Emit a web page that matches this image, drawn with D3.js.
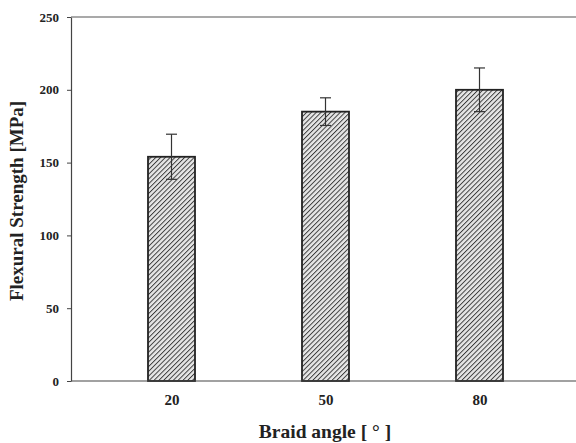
<!DOCTYPE html>
<html>
<head>
<meta charset="utf-8">
<script src="https://cdn.jsdelivr.net/npm/d3@7"></script>
<style>
  body { margin: 0; background: #fff; }
  text { font-family: "Liberation Serif", "Times New Roman", serif; font-weight: bold; fill: #222; }
</style>
</head>
<body>
<div id="chart"></div>
<script>
// data
const braidAngles = [20, 50, 80];
const strengthMean = [154, 185, 200];
const strengthErr = [15.5, 9.5, 15];
const yTicks = [0, 50, 100, 150, 200, 250];

const width = 576, height = 443;
const margins = { top: 17, right: 0, bottom: 62, left: 71 };
const barWidth = 47;

const svg = d3.select('#chart')
    .append('svg')
    .attr('width', width)
    .attr('height', height);

// hatch pattern
const defs = svg.append('defs');
const pat = defs.append('pattern')
    .attr('id', 'hatch')
    .attr('patternUnits', 'userSpaceOnUse')
    .attr('width', 3.4)
    .attr('height', 3.4)
    .attr('patternTransform', 'rotate(45)');
pat.append('rect').attr('width', 3.4).attr('height', 3.4).attr('fill', '#e6e6e6');
pat.append('line')
    .attr('x1', 0).attr('y1', 0).attr('x2', 0).attr('y2', 3.4)
    .attr('stroke', '#3a3a3a').attr('stroke-width', 1.9);

const x = d3.scaleLinear().domain([20, 80]).range([171.5, 479.5]);
const y = d3.scaleLinear().domain([0, 250]).range([height - margins.bottom, margins.top]);

//BARS
svg.selectAll('.bar')
    .data(braidAngles)
    .enter()
    .append('rect')
    .attr('class', 'bar')
    .attr('x', d => x(d) - barWidth / 2)
    .attr('width', barWidth)
    .attr('y', (d, i) => y(strengthMean[i]))
    .attr('height', (d, i) => y(0) - y(strengthMean[i]))
    .attr('fill', 'url(#hatch)')
    .attr('stroke', '#222')
    .attr('stroke-width', 1.8);

//ERROR BARS
const err = svg.selectAll('.err')
    .data(braidAngles)
    .enter()
    .append('g')
    .attr('class', 'err')
    .attr('stroke', '#333')
    .attr('stroke-width', 1.2);

err.append('line')
    .attr('x1', d => x(d)).attr('x2', d => x(d))
    .attr('y1', (d, i) => y(strengthMean[i] + strengthErr[i]))
    .attr('y2', (d, i) => y(strengthMean[i] - strengthErr[i]));
err.append('line')
    .attr('x1', d => x(d) - 5.5).attr('x2', d => x(d) + 5.5)
    .attr('y1', (d, i) => y(strengthMean[i] + strengthErr[i]))
    .attr('y2', (d, i) => y(strengthMean[i] + strengthErr[i]));
err.append('line')
    .attr('x1', d => x(d) - 5.5).attr('x2', d => x(d) + 5.5)
    .attr('y1', (d, i) => y(strengthMean[i] - strengthErr[i]))
    .attr('y2', (d, i) => y(strengthMean[i] - strengthErr[i]));

//AXES
const yAxis = svg.append('g')
    .attr('transform', `translate(${margins.left},0)`)
    .call(d3.axisLeft(y).tickValues(yTicks).tickSize(4).tickPadding(8).tickSizeOuter(0));

const xAxis = svg.append('g')
    .attr('transform', `translate(0,${y(0)})`)
    .call(d3.axisBottom(x).tickValues(braidAngles).tickSize(0).tickPadding(13));

// extend x axis line to the right edge
xAxis.select('.domain').attr('d', `M${margins.left},0H${width}`);

[yAxis, xAxis].forEach(a => {
    a.selectAll('.domain').attr('stroke', '#444').attr('stroke-width', 1.2);
    a.selectAll('.tick line').attr('stroke', '#444');
    a.selectAll('.tick text')
        .attr('font-family', '"Liberation Serif", serif')
        .attr('font-weight', 'bold')
        .attr('fill', '#1a1a1a');
});
yAxis.selectAll('.tick text').attr('font-size', 13);
xAxis.selectAll('.tick text').attr('font-size', 15);

// top frame line
svg.append('line')
    .attr('x1', margins.left).attr('x2', width)
    .attr('y1', y(250)).attr('y2', y(250))
    .attr('stroke', '#555').attr('stroke-width', 1.2);

//LABELS
svg.append('text')
    .attr('transform', `translate(23, ${(y(0) + y(250)) / 2 + 2}) rotate(-90)`)
    .attr('text-anchor', 'middle')
    .attr('font-size', 19)
    .attr('fill', '#1a1a1a')
    .text('Flexural Strength [MPa]');

svg.append('text')
    .attr('x', 325)
    .attr('y', 438)
    .attr('text-anchor', 'middle')
    .attr('font-size', 19.5)
    .attr('fill', '#1a1a1a')
    .text('Braid angle [ °  ]');
</script>
</body>
</html>
